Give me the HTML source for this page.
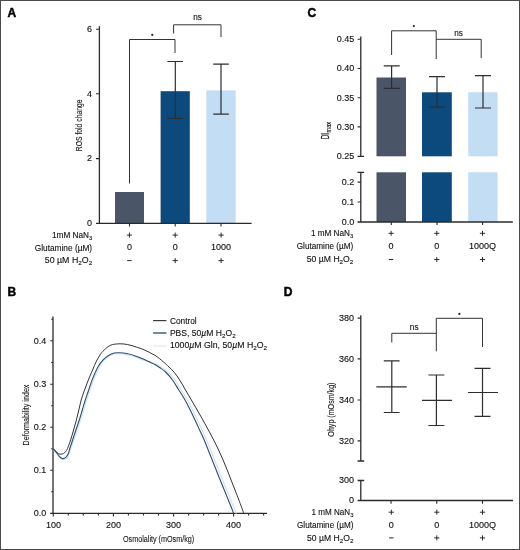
<!DOCTYPE html>
<html><head><meta charset="utf-8">
<style>
html,body{margin:0;padding:0;background:#fff;}
body{width:520px;height:550px;overflow:hidden;}
svg{display:block;will-change:transform;}
text{font-family:"Liberation Sans",sans-serif;fill:#111;stroke:#111;stroke-width:0.12;}
.lbl{font-size:8.6px;}
.tk{font-size:9px;}
.cond{stroke:#222;stroke-width:0.1;}
.pl{font-size:12px;font-weight:bold;fill:#000;stroke:#000;stroke-width:0.45;}
.ax{stroke:#2b2b2b;stroke-width:1.3;fill:none;}
.th{stroke:#2b2b2b;stroke-width:1.1;fill:none;}
.eb{stroke:#2e2e2e;stroke-width:1.2;fill:none;}
.pm{stroke:#2a2a2a;stroke-width:1;fill:none;}
.br{stroke:#333;stroke-width:1;fill:none;}
</style></head>
<body>
<svg width="520" height="550" viewBox="0 0 520 550">
<rect x="0" y="0" width="520" height="550" fill="#fff"/>

<!-- ================= PANEL A ================= -->
<text class="pl" x="7.6" y="17.2">A</text>
<!-- bars -->
<rect x="115" y="192" width="29" height="31.4" fill="#4a5567"/>
<rect x="160.6" y="91.2" width="29.2" height="132.2" fill="#0c4a7e"/>
<rect x="206.3" y="90.4" width="29.4" height="133" fill="#c3ddf4"/>
<!-- axes -->
<path class="ax" d="M99.4 26.2 V223.4 M96 223.4 H251.6"/>
<path class="th" d="M96 29.2 H99.5 M96 93.8 H99.5 M96 158.6 H99.5 M129.5 223.4 V226.6 M175.2 223.4 V226.6 M221 223.4 V226.6"/>
<text class="tk" x="92" y="32.0" text-anchor="end">6</text>
<text class="tk" x="92" y="96.6" text-anchor="end">4</text>
<text class="tk" x="92" y="161.4" text-anchor="end">2</text>
<text class="tk" x="92" y="226.2" text-anchor="end">0</text>
<text class="lbl cond" transform="translate(81.5 125.3) rotate(-90)" text-anchor="middle" textLength="51.8" lengthAdjust="spacingAndGlyphs" style="font-size:9.8px">ROS fold change</text>
<!-- error bars -->
<path class="eb" d="M175.3 61.5 V118.4 M167.4 61.5 H183 M167.4 118.4 H183"/>
<path class="eb" d="M221 64.2 V114.2 M213.2 64.2 H228.8 M213.2 114.2 H228.8"/>
<!-- brackets -->
<path class="br" d="M129.5 183.5 V39.5 H175 V53"/>
<path class="br" d="M173.6 33.5 V24.8 H221 V37"/>
<circle cx="152.3" cy="34.8" r="1.15" fill="#222"/>
<text class="tk" x="197.6" y="20.2" text-anchor="middle" style="font-size:8.2px">ns</text>
<!-- x labels -->
<text class="lbl" x="52.0" y="237.8" textLength="40.2" lengthAdjust="spacingAndGlyphs">1mM NaN<tspan font-size="6.2" dy="1.9">3</tspan></text>
<text class="lbl" x="34.8" y="251.0" textLength="57.3" lengthAdjust="spacingAndGlyphs">Glutamine (µM)</text>
<text class="lbl" x="44.8" y="263.0" textLength="47.4" lengthAdjust="spacingAndGlyphs">50 µM H<tspan font-size="6.2" dy="1.9">2</tspan><tspan dy="-1.9">O</tspan><tspan font-size="6.2" dy="1.9">2</tspan></text>
<path class="pm" d="M126.8 235.1 h5.2 M129.4 232.6 v5 M172.6 235.1 h5.2 M175.2 232.6 v5 M218.5 235.1 h5.2 M221.1 232.6 v5 M127.2 260.6 h4.4 M172.6 260.6 h5.2 M175.2 258.1 v5 M218.5 260.6 h5.2 M221.1 258.1 v5"/>
<text class="tk" x="129.4" y="250.4" text-anchor="middle">0</text>
<text class="tk" x="175.2" y="250.4" text-anchor="middle">0</text>
<text class="tk" x="221.1" y="250.4" text-anchor="middle">1000</text>

<!-- ================= PANEL C ================= -->
<text class="pl" x="307.6" y="17.2">C</text>
<!-- bars upper -->
<rect x="376.5" y="77.5" width="29.5" height="78.8" fill="#4a5567"/>
<rect x="422" y="92.3" width="29.8" height="64" fill="#0c4a7e"/>
<rect x="468.2" y="92.3" width="29.4" height="64" fill="#c3ddf4"/>
<!-- bars lower -->
<rect x="376.5" y="172.3" width="29.5" height="49.7" fill="#4a5567"/>
<rect x="422" y="172.3" width="29.8" height="49.7" fill="#0c4a7e"/>
<rect x="468.2" y="172.3" width="29.4" height="49.7" fill="#c3ddf4"/>
<!-- axes -->
<path class="ax" d="M360.8 36.4 V156.3 M357.5 156.3 H364 M360.8 172.3 V222 M357.5 172.3 H364 M357.5 222 H512.8"/>
<path class="th" d="M357.6 39.3 H360.8 M357.6 68.5 H360.8 M357.6 97.7 H360.8 M357.6 126.9 H360.8 M357.6 182.1 H360.8 M357.6 202 H360.8 M391.3 222 V225 M437 222 V225 M482.6 222 V225"/>
<g class="tk" text-anchor="end">
<text x="354.3" y="42.1">0.45</text>
<text x="354.3" y="71.3">0.40</text>
<text x="354.3" y="100.5">0.35</text>
<text x="354.3" y="129.7">0.30</text>
<text x="354.3" y="158.9">0.25</text>
<text x="354.3" y="184.9">0.2</text>
<text x="354.3" y="204.8">0.1</text>
<text x="354.3" y="224.8">0.0</text>
</g>
<g transform="translate(329 139.3) rotate(-90)"><text class="lbl" x="0" y="0" textLength="6.3" lengthAdjust="spacingAndGlyphs" style="font-size:10.2px;stroke:#222;stroke-width:0.25">DI</text><text class="lbl" x="6.8" y="1.7" textLength="10.5" lengthAdjust="spacingAndGlyphs" style="font-size:6.8px">max</text></g>
<!-- error bars -->
<path class="eb" d="M391.6 65.9 V88.3 M383.7 65.9 H399.7 M383.7 88.3 H399.7"/>
<path class="eb" d="M437 76.7 V107.1 M429 76.7 H445 M429 107.1 H445"/>
<path class="eb" d="M483 75.6 V108 M475 75.6 H491 M475 108 H491"/>
<!-- brackets -->
<path class="br" d="M391.6 55 V30.8 H436.2 V59"/>
<path class="br" d="M436.2 39.3 H481.2 V58"/>
<circle cx="413.8" cy="26.1" r="1.1" fill="#222"/>
<text class="tk" x="458.5" y="35.6" text-anchor="middle" style="font-size:8.2px">ns</text>
<!-- x labels -->
<text class="lbl" x="310.9" y="236.4" textLength="42.4" lengthAdjust="spacingAndGlyphs">1 mM NaN<tspan font-size="6.2" dy="1.9">3</tspan></text>
<text class="lbl" x="296.7" y="249.2" textLength="56.6" lengthAdjust="spacingAndGlyphs">Glutamine (µM)</text>
<text class="lbl" x="306.8" y="261.6" textLength="46.5" lengthAdjust="spacingAndGlyphs">50 µM H<tspan font-size="6.2" dy="1.9">2</tspan><tspan dy="-1.9">O</tspan><tspan font-size="6.2" dy="1.9">2</tspan></text>
<path class="pm" d="M388.5 233.3 h5.2 M391.1 230.8 v5 M434.2 233.3 h5.2 M436.8 230.8 v5 M479.9 233.3 h5.2 M482.5 230.8 v5 M388.9 259.5 h4.4 M434.2 259.5 h5.2 M436.8 257.0 v5 M479.9 259.5 h5.2 M482.5 257.0 v5"/>
<text class="tk" x="391.1" y="248.8" text-anchor="middle">0</text>
<text class="tk" x="436.8" y="248.8" text-anchor="middle">0</text>
<text class="tk" x="482.5" y="248.8" text-anchor="middle">1000Q</text>

<!-- ================= PANEL B ================= -->
<text class="pl" x="7.4" y="295.5">B</text>
<path class="ax" d="M53 316.4 V513.4 H267"/>
<path class="th" d="M50.2 340.8 H53 M50.2 384.2 H53 M50.2 427.2 H53 M50.2 470.2 H53 M50.2 513.4 H53
M51.2 319.3 H53 M51.2 362.5 H53 M51.2 405.7 H53 M51.2 448.7 H53 M51.2 491.8 H53
M53.3 513.4 V516.6 M113.4 513.4 V516.6 M173.6 513.4 V516.6 M233.6 513.4 V516.6
M68.3 513.4 V515.4 M83.3 513.4 V515.4 M98.4 513.4 V515.4 M128.4 513.4 V515.4 M143.5 513.4 V515.4 M158.5 513.4 V515.4 M188.6 513.4 V515.4 M203.6 513.4 V515.4 M218.6 513.4 V515.4 M248.6 513.4 V515.4 M263.6 513.4 V515.4"/>
<g class="tk" text-anchor="end">
<text x="46.3" y="343.6">0.4</text>
<text x="46.3" y="387.0">0.3</text>
<text x="46.3" y="430.0">0.2</text>
<text x="46.3" y="473.0">0.1</text>
<text x="46.3" y="516.2">0.0</text>
</g>
<g class="tk" text-anchor="middle">
<text x="53.5" y="527.8">100</text>
<text x="113.4" y="527.8">200</text>
<text x="173.6" y="527.8">300</text>
<text x="233.6" y="527.8">400</text>
</g>
<text class="lbl cond" x="123" y="541.9" textLength="71.2" lengthAdjust="spacingAndGlyphs" style="font-size:9.7px">Osmolality (mOsm/kg)</text>
<text class="lbl cond" transform="translate(28.7 415) rotate(-90)" text-anchor="middle" textLength="60.9" lengthAdjust="spacingAndGlyphs" style="font-size:9.8px">Deformability index</text>
<!-- curves -->
<path id="cLight" fill="none" stroke="#d3e3f3" stroke-width="1.2" d="M53.0 448.5 C53.6 449.3 55.8 452.0 56.9 453.5 C58.0 455.0 58.8 456.4 59.9 457.5 C61.0 458.6 62.1 459.6 63.2 459.8 C64.3 460.0 65.5 459.4 66.4 458.6 C67.3 457.8 68.1 456.5 68.8 455.0 C69.5 453.5 69.6 452.1 70.4 449.7 C71.2 447.3 72.7 443.8 73.8 440.6 C74.9 437.4 76.0 433.9 77.1 430.6 C78.2 427.3 79.4 423.9 80.5 420.6 C81.6 417.3 82.5 413.9 83.5 410.6 C84.5 407.3 85.5 403.7 86.5 400.6 C87.5 397.5 88.2 395.7 89.4 392.1 C90.6 388.5 92.2 383.3 93.9 379.1 C95.6 374.9 97.8 370.2 99.4 367.1 C101.0 364.0 102.2 362.2 103.7 360.4 C105.2 358.6 106.8 357.6 108.5 356.5 C110.2 355.4 112.3 354.4 114.2 354.0 C116.1 353.6 117.8 353.7 120.0 353.8 C122.2 353.9 125.1 354.3 127.7 354.8 C130.3 355.3 132.8 356.0 135.4 356.9 C138.0 357.8 140.3 359.2 143.1 360.1 C145.9 361.0 150.0 361.6 152.4 362.3 C154.8 363.1 155.7 363.7 157.4 364.6 C159.1 365.5 160.6 366.6 162.4 367.8 C164.2 369.0 165.9 370.0 168.0 372.0 C170.1 374.0 172.7 377.0 174.9 380.0 C177.1 383.0 179.1 386.7 181.2 390.0 C183.3 393.3 185.5 396.7 187.4 400.0 C189.3 403.3 190.9 406.7 192.6 410.0 C194.3 413.3 195.8 416.7 197.4 420.0 C199.0 423.3 200.5 426.7 202.0 430.0 C203.5 433.3 205.2 436.7 206.6 440.0 C208.0 443.3 209.3 446.7 210.6 450.0 C211.9 453.3 213.3 456.7 214.6 460.0 C215.9 463.3 217.3 466.7 218.6 470.0 C219.9 473.3 221.2 476.7 222.6 480.0 C223.9 483.3 225.4 486.7 226.7 490.0 C228.1 493.3 229.7 497.5 230.7 500.0 C231.7 502.5 231.9 502.8 232.8 505.0 C233.7 507.2 235.6 512.0 236.2 513.4"/>
<path id="cBlue" fill="none" stroke="#2b4d70" stroke-width="1.1" d="M53.0 448.5 C53.5 449.1 55.2 451.0 56.3 452.3 C57.3 453.6 58.2 455.2 59.3 456.3 C60.3 457.4 61.5 458.4 62.6 458.6 C63.7 458.8 64.9 458.2 65.8 457.4 C66.7 456.6 67.5 455.3 68.2 453.8 C68.9 452.3 69.1 450.8 69.8 448.5 C70.5 446.2 71.6 443.1 72.6 440.0 C73.6 436.9 74.8 433.3 75.9 430.0 C77.0 426.7 78.2 423.3 79.3 420.0 C80.4 416.7 81.3 413.3 82.3 410.0 C83.3 406.7 84.3 403.1 85.3 400.0 C86.3 396.9 87.0 395.1 88.2 391.5 C89.4 387.9 91.0 382.7 92.7 378.5 C94.4 374.3 96.4 369.7 98.2 366.5 C100.0 363.3 102.0 361.2 103.7 359.4 C105.4 357.6 106.8 356.6 108.5 355.5 C110.2 354.4 112.3 353.4 114.2 353.0 C116.1 352.6 117.8 352.7 120.0 352.8 C122.2 352.9 125.1 353.3 127.7 353.8 C130.3 354.3 132.8 355.0 135.4 355.9 C138.0 356.8 140.7 358.0 143.1 359.1 C145.5 360.2 148.0 361.4 150.0 362.3 C152.0 363.2 153.3 363.7 155.0 364.6 C156.7 365.5 158.2 366.6 160.0 367.8 C161.8 369.0 163.5 370.0 165.6 372.0 C167.7 374.0 170.3 377.0 172.5 380.0 C174.7 383.0 176.7 386.7 178.8 390.0 C180.9 393.3 183.1 396.7 185.0 400.0 C186.9 403.3 188.5 406.7 190.2 410.0 C191.9 413.3 193.4 416.7 195.0 420.0 C196.6 423.3 198.1 426.7 199.6 430.0 C201.1 433.3 202.8 436.7 204.2 440.0 C205.6 443.3 206.9 446.7 208.2 450.0 C209.5 453.3 210.9 456.7 212.2 460.0 C213.5 463.3 214.9 466.7 216.2 470.0 C217.5 473.3 218.8 476.7 220.2 480.0 C221.5 483.3 223.0 486.7 224.3 490.0 C225.7 493.3 227.3 497.5 228.3 500.0 C229.3 502.5 229.5 502.8 230.4 505.0 C231.3 507.2 233.1 512.0 233.6 513.4"/>
<path id="cCtrl" fill="none" stroke="#30353b" stroke-width="1" d="M53.0 448.5 C53.5 449.0 55.3 450.8 56.2 451.6 C57.1 452.5 57.8 453.2 58.6 453.6 C59.4 454.0 60.1 454.2 60.9 454.2 C61.7 454.2 62.6 454.0 63.4 453.6 C64.2 453.2 64.9 452.5 65.6 451.6 C66.3 450.8 66.7 450.4 67.5 448.5 C68.3 446.6 69.6 443.1 70.6 440.0 C71.6 436.9 72.6 433.3 73.6 430.0 C74.6 426.7 75.5 423.3 76.4 420.0 C77.3 416.7 78.0 413.3 78.8 410.0 C79.6 406.7 80.4 403.0 81.2 400.0 C82.0 397.0 82.9 394.7 83.8 392.0 C84.7 389.3 85.8 386.7 86.8 384.0 C87.8 381.3 89.0 378.5 90.0 376.0 C91.0 373.5 92.0 371.3 93.0 369.0 C94.0 366.7 94.9 364.2 96.0 362.0 C97.1 359.8 98.3 357.8 99.4 356.0 C100.5 354.2 100.9 353.3 102.7 351.5 C104.5 349.7 107.5 346.6 110.4 345.3 C113.3 344.0 117.1 343.9 120.0 343.8 C122.9 343.7 125.0 344.1 127.7 344.6 C130.4 345.1 133.6 346.1 136.3 347.0 C139.0 347.9 140.9 348.4 144.0 349.8 C147.1 351.2 151.4 353.2 154.7 355.2 C158.0 357.2 161.2 360.0 163.6 362.0 C166.0 364.0 167.2 365.3 169.0 367.0 C170.8 368.7 172.4 370.1 174.2 372.3 C176.0 374.5 177.8 377.1 179.7 380.0 C181.6 382.9 183.6 386.7 185.5 390.0 C187.4 393.3 189.5 396.7 191.4 400.0 C193.3 403.3 195.3 406.7 197.2 410.0 C199.1 413.3 201.0 416.7 202.9 420.0 C204.8 423.3 206.6 426.7 208.4 430.0 C210.2 433.3 212.0 436.7 213.7 440.0 C215.4 443.3 217.0 446.7 218.6 450.0 C220.2 453.3 221.7 456.7 223.1 460.0 C224.5 463.3 225.9 466.7 227.2 470.0 C228.5 473.3 229.8 476.7 231.1 480.0 C232.4 483.3 233.7 486.7 235.0 490.0 C236.3 493.3 237.4 496.1 238.9 500.0 C240.4 503.9 243.0 511.2 243.8 513.4"/>
<!-- legend -->
<path d="M153.1 320.6 H166.4" stroke="#3a3a3a" stroke-width="1.2"/>
<path d="M153.1 333 H166.4" stroke="#48617d" stroke-width="1.5"/>
<path d="M153.1 345.9 H166.4" stroke="#e2e8ef" stroke-width="1.2"/>
<text class="lbl" x="169.9" y="323.6" style="font-size:8.6px" textLength="26.8" lengthAdjust="spacingAndGlyphs">Control</text>
<text class="lbl" x="169.9" y="336.2" style="font-size:8.6px" textLength="65.7" lengthAdjust="spacingAndGlyphs">PBS, 50<tspan font-style="italic">µ</tspan>M H<tspan font-size="6.2" dy="1.9">2</tspan><tspan dy="-1.9">O</tspan><tspan font-size="6.2" dy="1.9">2</tspan></text>
<text class="lbl" x="169.9" y="348.4" style="font-size:8.6px" textLength="97.1" lengthAdjust="spacingAndGlyphs">1000<tspan font-style="italic">µ</tspan>M Gln, 50<tspan font-style="italic">µ</tspan>M H<tspan font-size="6.2" dy="1.9">2</tspan><tspan dy="-1.9">O</tspan><tspan font-size="6.2" dy="1.9">2</tspan></text>

<!-- ================= PANEL D ================= -->
<text class="pl" x="283.8" y="295.8">D</text>
<path class="ax" d="M360.8 315.2 V461 M357.6 461 H364.2 M360.8 480.5 V500.5 M357.6 480.5 H364.2 M357.6 500.5 H513"/>
<path class="th" d="M357.6 318.1 H360.8 M357.6 358.9 H360.8 M357.6 400 H360.8 M357.6 440.9 H360.8 M391 500.5 V503.8 M436.8 500.5 V503.8 M482.5 500.5 V503.8"/>
<g class="tk" text-anchor="end">
<text x="354" y="320.9">380</text>
<text x="354" y="361.7">360</text>
<text x="354" y="402.8">340</text>
<text x="354" y="443.7">320</text>
<text x="354" y="483.3">300</text>
<text x="354" y="503.3">0</text>
</g>
<text class="lbl cond" transform="translate(333.8 409.6) rotate(-90)" text-anchor="middle" textLength="54.1" lengthAdjust="spacingAndGlyphs" style="font-size:9.8px">Ohyp (mOsm/kg)</text>
<!-- error bars -->
<path class="eb" d="M391.8 360.8 V412.5 M383.8 360.8 H399.6 M383.8 412.5 H399.6 M376.3 386.8 H406.8"/>
<path class="eb" d="M436.4 375 V425.5 M428.4 375 H444.4 M428.4 425.5 H444.4 M422 400.4 H452"/>
<path class="eb" d="M482.5 368.3 V416.3 M474.5 368.3 H490.5 M474.5 416.3 H490.5 M468 392.5 H498"/>
<!-- brackets -->
<path class="br" d="M391.8 342.5 V333.3 H436.3 V351.3"/>
<path class="br" d="M436.3 333.3 V318.3 H482.5 V347"/>
<text class="tk" x="414.2" y="330.2" text-anchor="middle" style="font-size:8.2px">ns</text>
<circle cx="459.4" cy="313.9" r="1.1" fill="#222"/>
<!-- x labels -->
<text class="lbl" x="311.5" y="515.0" textLength="41.9" lengthAdjust="spacingAndGlyphs">1 mM NaN<tspan font-size="6.2" dy="1.9">3</tspan></text>
<text class="lbl" x="297.0" y="527.8" textLength="56.4" lengthAdjust="spacingAndGlyphs">Glutamine (µM)</text>
<text class="lbl" x="307.0" y="540.6" textLength="46.4" lengthAdjust="spacingAndGlyphs">50 µM H<tspan font-size="6.2" dy="1.9">2</tspan><tspan dy="-1.9">O</tspan><tspan font-size="6.2" dy="1.9">2</tspan></text>
<path class="pm" d="M388.7 512.2 h5.2 M391.3 509.7 v5 M434.2 512.2 h5.2 M436.8 509.7 v5 M479.9 512.2 h5.2 M482.5 509.7 v5 M389.1 537.9 h4.4 M434.2 537.9 h5.2 M436.8 535.4 v5 M479.9 537.9 h5.2 M482.5 535.4 v5"/>
<text class="tk" x="391.3" y="527.6" text-anchor="middle">0</text>
<text class="tk" x="436.8" y="527.6" text-anchor="middle">0</text>
<text class="tk" x="482.5" y="527.6" text-anchor="middle">1000Q</text>

<!-- border -->
<rect x="0.5" y="0.5" width="519" height="549" fill="none" stroke="#4a4a4a" stroke-width="1"/>
</svg>
</body></html>
